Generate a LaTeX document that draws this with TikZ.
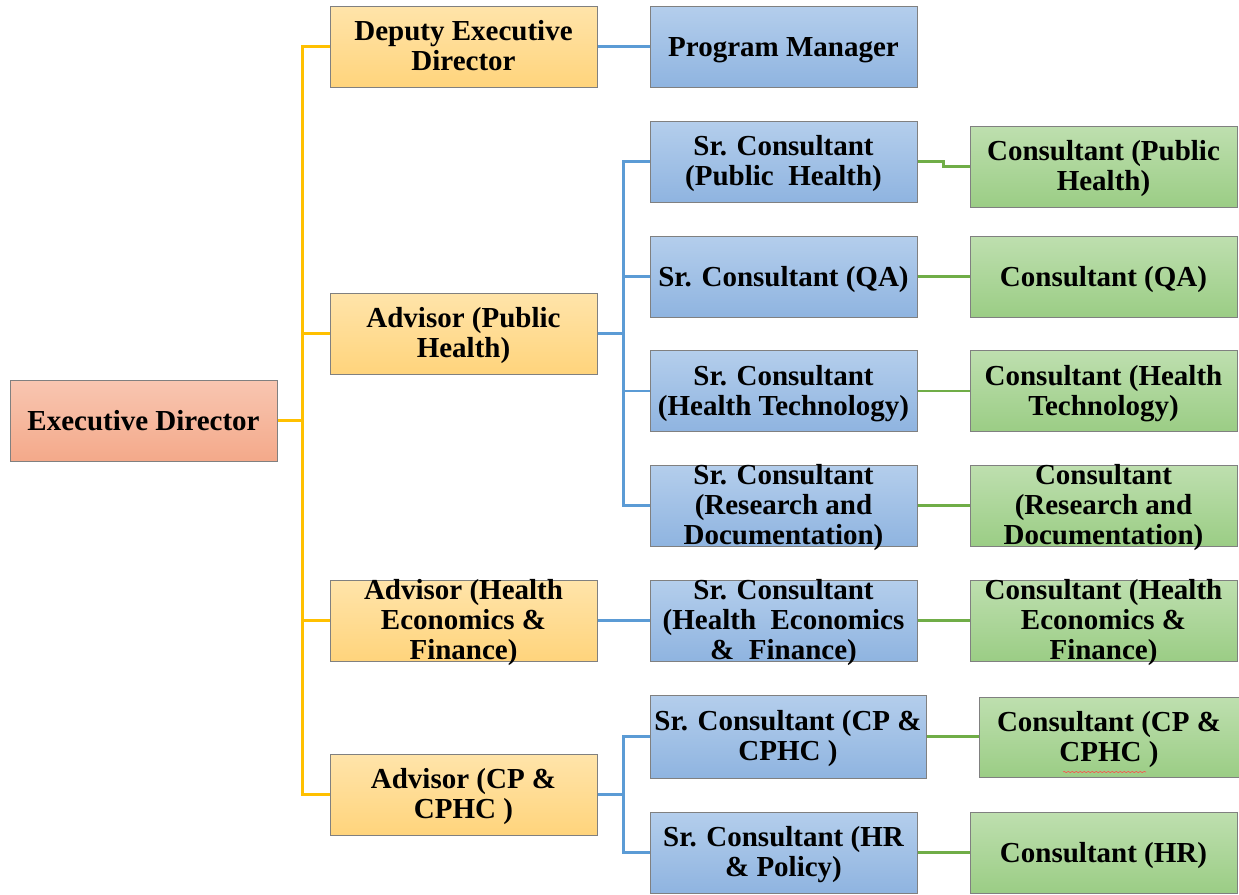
\documentclass[tikz,border=0pt]{standalone}
\usepackage{fontspec}
\setmainfont{Liberation Serif}
\usetikzlibrary{decorations.pathmorphing}
\definecolor{salT}{HTML}{F8C6B1}
\definecolor{salB}{HTML}{F4A98A}
\definecolor{orT}{HTML}{FFE4AA}
\definecolor{orB}{HTML}{FFD47C}
\definecolor{blT}{HTML}{B4CEEC}
\definecolor{blB}{HTML}{8FB4E0}
\definecolor{grT}{HTML}{BEDFAF}
\definecolor{grB}{HTML}{9BCD85}
\definecolor{lnY}{HTML}{FFC000}
\definecolor{lnB}{HTML}{5B9BD5}
\definecolor{lnG}{HTML}{70AD47}
\definecolor{bord}{HTML}{808080}
\tikzset{
  box/.style={draw=bord, line width=1pt, shading=axis, minimum width=267pt, minimum height=81pt,
    inner sep=0pt},
  salbox/.style={box, top color=salT, bottom color=salB},
  orbox/.style={box, top color=orT, bottom color=orB},
  blbox/.style={box, top color=blT, bottom color=blB},
  grbox/.style={box, top color=grT, bottom color=grB},
  txt/.style={inner sep=0pt, align=center, font=\fontsize{29}{30}\selectfont\bfseries,
    execute at begin node={\rule{0pt}{21pt}}, execute at end node={\rule[-8pt]{0pt}{0pt}}},
  yl/.style={draw=lnY, line width=2.5pt},
  bl/.style={draw=lnB, line width=2.5pt},
  gl/.style={draw=lnG, line width=2.5pt},
}
\newcommand\orgbox[5]{%
  \node[#1] (#2) at (#3,#4) {};
  \node[txt] (#2t) at ([yshift=-3pt]#2.center) {#5};}
\begin{document}
\begin{tikzpicture}[x=1pt,y=-1pt]
\useasboundingbox (0,0) rectangle (1239,894);
% column 1
\orgbox{salbox}{ed}{143.5}{420.5}{Executive Director}
% column 2
\orgbox{orbox}{dep}{463.5}{46.5}{Deputy Executive\\Director}
\orgbox{orbox}{aph}{463.5}{333.5}{Advisor (Public\\Health)}
\orgbox{orbox}{ahe}{463.5}{620.5}{Advisor (Health\\Economics \&\\Finance)}
\orgbox{orbox}{acp}{463.5}{794.5}{Advisor (CP \&\\CPHC )}
% column 3
\orgbox{blbox}{pm}{783.5}{46.5}{Program Manager}
\orgbox{blbox}{s1}{783.5}{161.5}{Sr. Consultant\\(Public \ Health)}
\orgbox{blbox}{s2}{783.5}{276.5}{Sr. Consultant (QA)}
\orgbox{blbox}{s3}{783.5}{391}{Sr. Consultant\\(Health Technology)}
\orgbox{blbox}{s4}{783.5}{505.5}{Sr. Consultant\\(Research and\\Documentation)}
\orgbox{blbox}{s5}{783.5}{620.5}{Sr. Consultant\\(Health \ Economics\\\& \ Finance)}
\orgbox{blbox, minimum width=276pt, minimum height=83pt}{s6}{788}{736.5}{Sr. Consultant (CP \&\\CPHC )}
\orgbox{blbox}{s7}{783.5}{852.5}{Sr. Consultant (HR\\\& Policy)}
% column 4
\orgbox{grbox}{c1}{1103.5}{166.5}{Consultant (Public\\Health)}
\orgbox{grbox}{c2}{1103.5}{276.5}{Consultant (QA)}
\orgbox{grbox}{c3}{1103.5}{391}{Consultant (Health\\Technology)}
\orgbox{grbox}{c4}{1103.5}{505.5}{Consultant\\(Research and\\Documentation)}
\orgbox{grbox}{c5}{1103.5}{620.5}{Consultant (Health\\Economics \&\\Finance)}
\orgbox{grbox, minimum width=260pt, minimum height=80pt}{c6}{1109}{737}{Consultant (CP \&\\CPHC )}
\orgbox{grbox}{c7}{1103.5}{852.5}{Consultant (HR)}
% spell-check squiggle
\draw[red!70!white, line width=0.6pt, decorate, decoration={snake, amplitude=0.6pt, segment length=4pt}] (1063,772) -- (1146,772);
% yellow connectors
\draw[yl] (ed.east) -- ++(26,0);
\draw[yl] (dep.west) -- ++(-27,0) |- (acp.west);
\draw[yl] (aph.west) -- ++(-27,0);
\draw[yl] (ahe.west) -- ++(-27,0);
% blue connectors
\draw[bl] (dep.east) -- (pm.west);
\draw[bl] (aph.east) -- ++(27,0);
\draw[bl] (s1.west) -- ++(-26,0) |- (s4.west);
\draw[bl] (s2.west) -- ++(-26,0);
\draw[bl] (s3.west) -- ++(-26,0);
\draw[bl] (ahe.east) -- (s5.west);
\draw[bl] (acp.east) -- ++(27,0);
\draw[bl] (s6.west) -- ++(-26,0) |- (s7.west);
% green connectors
\draw[gl] (s1.east) -- ++(26,0) |- (c1.west);
\draw[gl] (s2.east) -- (c2.west);
\draw[gl] (s3.east) -- (c3.west);
\draw[gl] (s4.east) -- (c4.west);
\draw[gl] (s5.east) -- (c5.west);
\draw[gl] (s6.east) -- (s6.east -| c6.west);
\draw[gl] (s7.east) -- (c7.west);
\end{tikzpicture}
\end{document}
